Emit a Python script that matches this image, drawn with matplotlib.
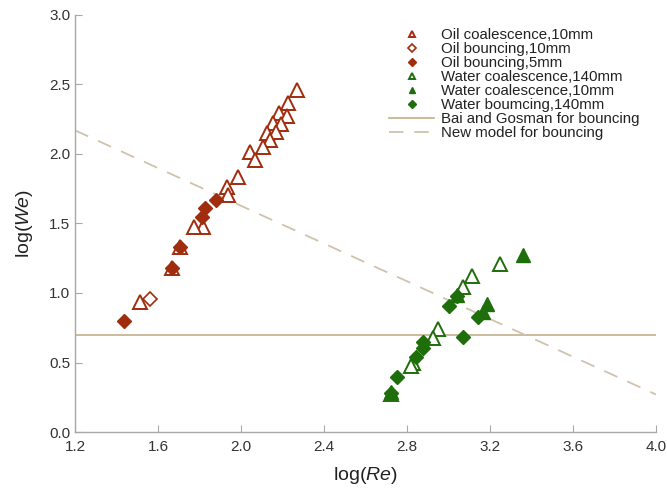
import matplotlib.pyplot as plt

plt.rcParams['font.family'] = ['Liberation Sans', 'DejaVu Sans']
plt.rcParams['mathtext.fontset'] = 'custom'
plt.rcParams['mathtext.rm'] = 'Liberation Sans'
plt.rcParams['mathtext.it'] = 'Liberation Sans:italic'

# Data (log Re, log We)
oil_coal_10_re = [2.268, 2.228, 2.185, 2.223, 2.156, 2.191, 2.127, 2.169, 2.140, 2.108,
                  2.043, 2.067, 1.987, 1.931, 1.939, 1.818, 1.773, 1.706, 1.666, 1.513]
oil_coal_10_we = [2.46, 2.37, 2.293, 2.275, 2.225, 2.216, 2.149, 2.16, 2.10, 2.053,
                  2.017, 1.957, 1.837, 1.765, 1.705, 1.477, 1.473, 1.333, 1.178, 0.937]

oil_bounce_10_re = [1.561]
oil_bounce_10_we = [0.955]

oil_bounce_5_re = [1.438, 1.666, 1.706, 1.810, 1.826, 1.878]
oil_bounce_5_we = [0.80, 1.178, 1.33, 1.549, 1.609, 1.669]

water_coal_140_re = [3.248, 3.112, 3.071, 2.948, 2.924, 2.830, 2.818, 2.721]
water_coal_140_we = [1.209, 1.122, 1.046, 0.739, 0.674, 0.494, 0.475, 0.273]

water_coal_10_re = [3.361, 3.187, 3.168, 3.043, 2.721]
water_coal_10_we = [1.273, 0.921, 0.866, 0.985, 0.29]

water_bounce_140_re = [3.043, 3.002, 3.144, 3.071, 2.879, 2.875, 2.842, 2.750, 2.721]
water_bounce_140_we = [0.978, 0.906, 0.83, 0.681, 0.65, 0.602, 0.537, 0.398, 0.283]

bai_gosman_re = [1.2, 4.0]
bai_gosman_we = [0.699, 0.699]

new_model_re = [1.2, 4.0]
new_model_we = [2.17, 0.27]

oil = '#a02d0e'
water = '#1f6e0c'

fig = plt.figure(figsize=(6.67, 4.98), dpi=100)
ax = fig.add_axes([0.1124, 0.1325, 0.8711, 0.8375])

ms_tri = 9.5
ms_dia = 7.5
ax.plot(oil_coal_10_re, oil_coal_10_we, '^', mfc='white', mec=oil, mew=1.4, ms=ms_tri,
        ls='none', label='Oil coalescence,10mm', zorder=3)
ax.plot(oil_bounce_10_re, oil_bounce_10_we, 'D', mfc='white', mec=oil, mew=1.2, ms=ms_dia,
        ls='none', label='Oil bouncing,10mm', zorder=3)
ax.plot(oil_bounce_5_re, oil_bounce_5_we, 'D', color=oil, ms=ms_dia,
        ls='none', label='Oil bouncing,5mm', zorder=4)
ax.plot(water_coal_140_re, water_coal_140_we, '^', mfc='white', mec=water, mew=1.4, ms=ms_tri,
        ls='none', label='Water coalescence,140mm', zorder=3)
ax.plot(water_coal_10_re, water_coal_10_we, '^', color=water, ms=ms_tri,
        ls='none', label='Water coalescence,10mm', zorder=4)
ax.plot(water_bounce_140_re, water_bounce_140_we, 'D', color=water, ms=ms_dia,
        ls='none', label='Water boumcing,140mm', zorder=4)
ax.plot(bai_gosman_re, bai_gosman_we, '-', color='#c2ae8a', lw=1.2,
        label='Bai and Gosman for bouncing', zorder=2)
ax.plot(new_model_re, new_model_we, '--', color='#cfc2ae', lw=1.3, dashes=(8, 6),
        label='New model for bouncing', zorder=2)

ax.set_xlim(1.2, 4.0)
ax.set_ylim(0.0, 3.0)
ax.set_xticks([1.2, 1.6, 2.0, 2.4, 2.8, 3.2, 3.6, 4.0])
ax.set_yticks([0.0, 0.5, 1.0, 1.5, 2.0, 2.5, 3.0])
ax.xaxis.set_major_formatter(plt.FormatStrFormatter('%.1f'))
ax.yaxis.set_major_formatter(plt.FormatStrFormatter('%.1f'))

for s in ['top', 'right']:
    ax.spines[s].set_visible(False)
for s in ['left', 'bottom']:
    ax.spines[s].set_color('#a8a8a8')
    ax.spines[s].set_linewidth(1.0)
ax.tick_params(direction='in', length=5, color='#a8a8a8', labelsize=11, labelcolor='#333333')
ax.tick_params(axis='x', pad=6)

ax.set_xlabel(r'log($\mathit{Re}$)', fontsize=14, color='#222222', labelpad=8)
ax.set_ylabel(r'log($\mathit{We}$)', fontsize=14, color='#222222', labelpad=10)

leg = fig.legend(loc='upper left', bbox_to_anchor=(0.568, 0.965), frameon=False, fontsize=10.8,
                 markerscale=0.5, labelspacing=0.0, handlelength=3.0, handletextpad=0.45,
                 borderpad=0.2)
for t in leg.get_texts():
    t.set_color('#222222')

fig.savefig('out.png', dpi=100)
